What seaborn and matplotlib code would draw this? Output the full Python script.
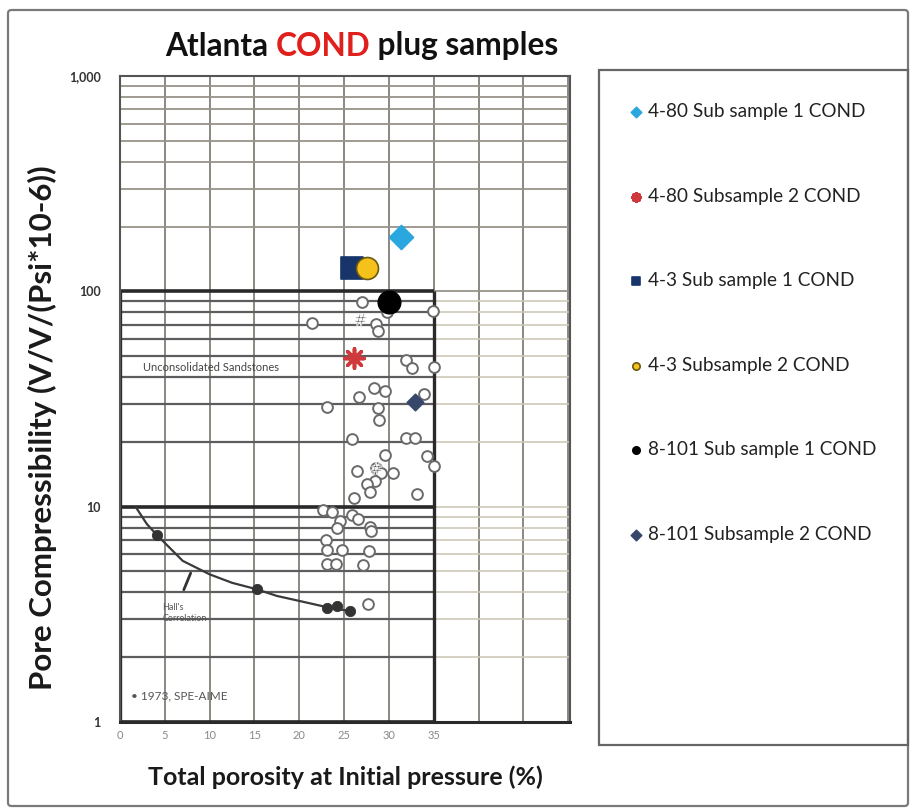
import numpy as np
import pandas as pd
import matplotlib
matplotlib.use("Agg")
import matplotlib.pyplot as plt
import seaborn as sns
from matplotlib.patches import FancyBboxPatch, Rectangle

# ---------------- data ----------------
# open circles (literature data)
open_x = [27.0, 29.8, 34.9, 21.4, 28.6, 28.8, 31.9, 32.6, 35.0, 28.3, 29.6, 26.7, 33.9,
          23.1, 28.8, 28.9, 25.9, 31.9, 32.9, 29.6, 34.3, 35.0, 26.4, 28.6, 30.4, 29.1,
          28.5, 27.5, 27.9, 33.1, 26.1, 22.6, 23.7, 25.9, 26.6, 24.5, 24.2, 27.9, 27.96,
          23.0, 23.1, 24.8, 27.8, 23.1, 24.1, 27.1, 27.7]
open_y = [89, 80.2, 81, 71.3, 70.4, 65.5, 47.9, 43.9, 44.6, 35.7, 34.4, 32.2, 33.4,
          29.1, 28.6, 25.3, 20.6, 20.8, 20.8, 17.4, 17.1, 15.5, 14.7, 15.1, 14.4, 14.3,
          13.2, 12.7, 11.7, 11.4, 11.0, 9.7, 9.4, 9.1, 8.8, 8.55, 7.96, 8.05, 7.68,
          6.98, 6.32, 6.32, 6.21, 5.39, 5.43, 5.37, 3.52]
hatch_x = [26.8, 28.6]
hatch_y = [74.7, 15.1]

# Hall's correlation curve and 1973 SPE-AIME points
hall_x = [1.8, 3.0, 4.1, 7.0, 10.0, 12.5, 15.3, 17.5, 20.0, 23.0, 25.7]
hall_y = [9.9, 8.3, 7.4, 5.6, 4.85, 4.43, 4.13, 3.85, 3.65, 3.42, 3.27]
spe_x = [4.1, 15.3, 23.1, 24.2, 25.7]
spe_y = [7.42, 4.13, 3.40, 3.45, 3.27]

# COND plug samples
labels = ["4-80 Sub sample 1 COND", "4-80 Subsample 2 COND", "4-3 Sub sample 1 COND",
          "4-3 Subsample 2 COND", "8-101 Sub sample 1 COND", "8-101 Subsample 2 COND"]
sample_x = [31.4, 26.1, 25.9, 27.6, 30.0, 32.9]
sample_y = [178, 48.8, 129, 129, 89, 30.7]
sample_color = ["#2aa7df", "#d0393b", "#17346b", "#f4c21a", "#000000", "#37476a"]
sample_edge = ["#2aa7df", "#d0393b", "#17346b", "#6b5a10", "#000000", "#37476a"]
sample_marker = ["D", (8, 2, 0), "s", "o", "o", "D"]
sample_size = [150, 190, 260, 250, 260, 70]

x_ticks = [0, 5, 10, 15, 20, 25, 30, 35]
y_ticks = [1, 10, 100, 1000]
y_tick_labels = ["1", "10", "100", "1,000"]

# ---------------- figure ----------------
sns.set_style("white")
plt.rcParams["font.family"] = ["Lato", "DejaVu Sans"]

W, H = 915, 808
fig = plt.figure(figsize=(W / 100, H / 100), dpi=100)
fig.patch.set_facecolor("white")

def fx(px):
    return px / W

def fy(py):
    return 1 - py / H

# outer frame and legend frame
fig.patches.append(FancyBboxPatch((fx(8), fy(806)), fx(908) - fx(8), fy(10) - fy(806),
                                  boxstyle="round,pad=0,rounding_size=0.004",
                                  transform=fig.transFigure, fill=False,
                                  edgecolor="#7a7a7a", lw=1.6, zorder=0))
fig.patches.append(Rectangle((fx(599), fy(745)), fx(908) - fx(599), fy(70) - fy(745),
                             transform=fig.transFigure, fill=False,
                             edgecolor="#666666", lw=1.6, zorder=0))

ax = fig.add_axes([fx(120), fy(722), fx(570) - fx(120), fy(76) - fy(722)])
ax.set_yscale("log")
ax.set_xlim(0, 50.2)
ax.set_ylim(1, 1000)

# ---- chart-paper grid ----
x_lines = np.arange(0, 51, 5)
ax.vlines(x_lines, 1, 1000, color="#8a8880", lw=1.4, zorder=1)
for dec in [100]:
    for k in range(1, 10):
        ax.hlines(dec * k, 0, 50.2, color="#97938a", lw=1.3, zorder=1)
for dec in [1, 10]:
    for k in range(1, 10):
        ax.hlines(dec * k, 0, 35, color="#5d5d5d", lw=1.6, zorder=1)
        ax.hlines(dec * k, 35, 50.2, color="#cdc8b8", lw=1.2, zorder=1)
ax.vlines([0, 35], 1, 100, color="#2a2a2a", lw=2.4, zorder=2)
ax.hlines([1, 10, 100], 0, 35, color="#2a2a2a", lw=2.6, zorder=2)

for s in ax.spines.values():
    s.set_color("#555555")
    s.set_linewidth(1.5)
ax.spines["bottom"].set_color("#2a2a2a")
ax.spines["bottom"].set_linewidth(2.2)

# ---- data ----
df_open = pd.DataFrame({"x": open_x, "y": open_y})
sns.scatterplot(data=df_open, x="x", y="y", ax=ax, marker="o", s=60,
                facecolor="white", edgecolor="#6a6a6a", linewidth=1.4, zorder=4)
sns.scatterplot(x=hatch_x, y=hatch_y, ax=ax, marker="$\\#$", s=70,
                color="#2f2f2f", linewidth=0.6, zorder=5)
sns.lineplot(x=hall_x, y=hall_y, ax=ax, sort=False, color="#3a3a3a", lw=1.6, zorder=3)
sns.scatterplot(x=spe_x, y=spe_y, ax=ax, marker="o", s=55, color="#333333",
                edgecolor="#333333", zorder=5)

for xi, yi, lab, c, ec, m, sz in zip(sample_x, sample_y, labels, sample_color,
                                      sample_edge, sample_marker, sample_size):
    kw = dict(linewidth=1.2)
    if isinstance(m, tuple):
        kw = dict(linewidth=2.6)
    sns.scatterplot(x=[xi], y=[yi], ax=ax, marker=m, s=sz, color=c,
                    edgecolor=ec, label=lab, zorder=6, **kw)

# ---- annotations ----
ax.text(2.6, 44.5, "Unconsolidated Sandstones", fontsize=8, color="#444444",
        va="center", ha="left", zorder=5)
ax.text(4.7, 3.2, "Hall's\nCorrelation", fontsize=6.5, color="#555555",
        va="center", ha="left", linespacing=1.3, zorder=5)
ax.annotate("", xy=(8.0, 5.05), xytext=(7.0, 4.0),
            arrowprops=dict(arrowstyle="-", color="#333333", lw=2.0), zorder=5)
ax.text(1.2, 1.32, "\u2022 1973, SPE-AIME", fontsize=8.5, color="#555555",
        va="center", ha="left", zorder=5)

# ---- ticks and labels ----
ax.set_xticks(x_ticks)
ax.set_xticklabels([str(t) for t in x_ticks], fontsize=8, color="#8a8a8a")
ax.set_yticks(y_ticks)
ax.set_yticklabels(y_tick_labels, fontsize=9, color="#333333", fontweight="bold")
ax.yaxis.set_minor_locator(matplotlib.ticker.NullLocator())
ax.tick_params(axis="both", length=0, pad=6)
ax.tick_params(axis="y", pad=14)
ax.set_xlabel("Total porosity at Initial pressure (%)", fontsize=18, fontweight="bold",
              color="#1a1a1a")
ax.set_ylabel("Pore Compressibility (V/V/(Psi*10-6))", fontsize=22.5, fontweight="bold",
              color="#1a1a1a")
ax.xaxis.set_label_coords(0.5, (722 - 765) / 646)
ax.xaxis.label.set_va("top")
ax.yaxis.set_label_coords((42 - 120) / 450, 0.455)
ax.yaxis.label.set_va("center")

# ---- legend ----
h, l = ax.get_legend_handles_labels()
leg = ax.legend(h, l, loc="upper left", bbox_to_anchor=(fx(626), fy(103)),
                bbox_transform=fig.transFigure, frameon=False, fontsize=13.7,
                labelspacing=3.55, handletextpad=0.15, handlelength=1.0,
                borderpad=0, borderaxespad=0)
for hd in leg.legend_handles:
    hd.set_sizes([28])
for t in leg.get_texts():
    t.set_color("#222222")

# ---- title with a red word ----
fig.canvas.draw()
renderer = fig.canvas.get_renderer()
parts = [("Atlanta ", "#111111"), ("COND", "#e0201c"), (" plug samples", "#111111")]
xcur = fx(165)
for txt, col in parts:
    t = fig.text(xcur, fy(46), txt, fontsize=22.8, fontweight="bold", color=col,
                 va="center", ha="left")
    bb = t.get_window_extent(renderer=renderer)
    xcur += bb.width / W

fig.savefig("out.png", dpi=100, facecolor="white")
